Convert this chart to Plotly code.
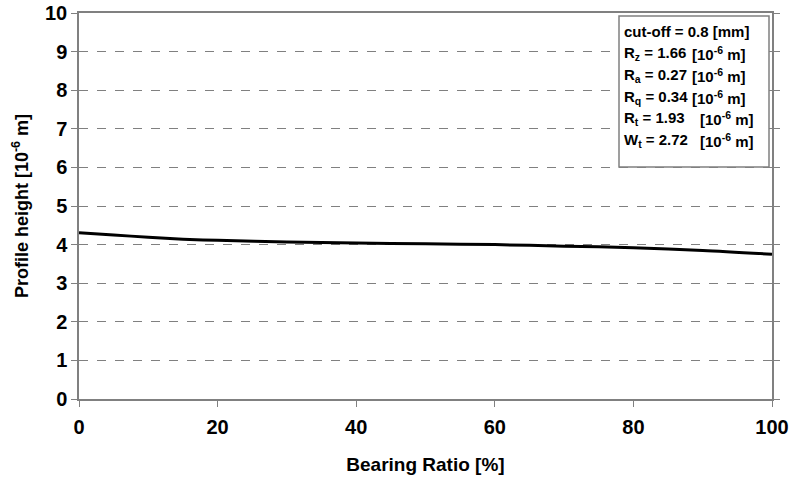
import plotly.graph_objects as go

# Data
bearing_ratio = [0, 5, 10, 15, 20, 30, 40, 50, 60, 70, 80, 90, 100]
profile_height = [4.31, 4.25, 4.19, 4.14, 4.11, 4.07, 4.04, 4.02, 4.00, 3.96, 3.92, 3.85, 3.75]

x_ticks = [0, 20, 40, 60, 80, 100]
y_ticks = list(range(0, 11))

param_names = ["R<sub>z</sub>", "R<sub>a</sub>", "R<sub>q</sub>", "R<sub>t</sub>", "W<sub>t</sub>"]
param_values = ["1.66", "0.27", "0.34", "1.93", "2.72"]
cutoff_text = "cut-off = 0.8 [mm]"
unit_text = "[10<sup>-6</sup> m]"

FONT = "Liberation Sans, Arial, sans-serif"
W, H = 792, 479
L, R, T, B = 79, 20, 13, 80
pw, ph = W - L - R, H - T - B

def px(x):
    return (x - L) / pw

def py(y):
    return (H - B - y) / ph

fig = go.Figure()
fig.add_trace(go.Scatter(x=bearing_ratio, y=profile_height, mode="lines",
                         line=dict(color="black", width=3, shape="spline", smoothing=0.8),
                         showlegend=False, hoverinfo="skip"))

axis_common = dict(showline=True, linecolor="#808080", linewidth=1.5,
                   ticks="outside", ticklen=6, tickcolor="#808080", tickwidth=1.2,
                   tickfont=dict(family=FONT, size=20, color="black", weight="bold"),
                   zeroline=False, automargin=False)

fig.update_xaxes(range=[0, 100], tickvals=x_ticks, showgrid=False, mirror=True,
                 ticklabelstandoff=3,
                 title=dict(text="Bearing Ratio [%]", font=dict(family=FONT, size=19, color="black", weight="bold"), standoff=21),
                 **axis_common)
fig.update_yaxes(range=[0, 10], tickvals=y_ticks, showgrid=True, gridcolor="#808080",
                 griddash="dash", gridwidth=1, mirror="ticks",
                 title=dict(text="Profile height [10<sup>-6</sup> m]", font=dict(family=FONT, size=18, color="black", weight="bold"), standoff=12),
                 **axis_common)

fig.update_layout(width=W, height=H, margin=dict(l=L, r=R, t=T, b=B, autoexpand=False),
                  plot_bgcolor="white", paper_bgcolor="white",
                  font=dict(family=FONT, color="black"))

# Info box
fig.add_shape(type="rect", xref="paper", yref="paper",
              x0=px(619), x1=px(769), y0=py(167), y1=py(16),
              line=dict(color="#808080", width=1.5), fillcolor="white", layer="above")

rows_y = [31, 53, 75, 97, 118.5, 140.5]
box_font = dict(family=FONT, size=15, color="black", weight="bold")
fig.add_annotation(x=px(622), y=py(rows_y[0]), xref="paper", yref="paper",
                   text=cutoff_text, showarrow=False,
                   xanchor="left", yanchor="middle", font=box_font)
unit_x = [690, 690, 690, 698, 698]
for i, (n, v) in enumerate(zip(param_names, param_values)):
    fig.add_annotation(x=px(622), y=py(rows_y[i + 1]), xref="paper", yref="paper",
                       text=n + " = " + v, showarrow=False,
                       xanchor="left", yanchor="middle", font=box_font)
    fig.add_annotation(x=px(unit_x[i]), y=py(rows_y[i + 1]), xref="paper", yref="paper",
                       text=unit_text, showarrow=False,
                       xanchor="left", yanchor="middle", font=box_font)

fig.write_html("out.html")
